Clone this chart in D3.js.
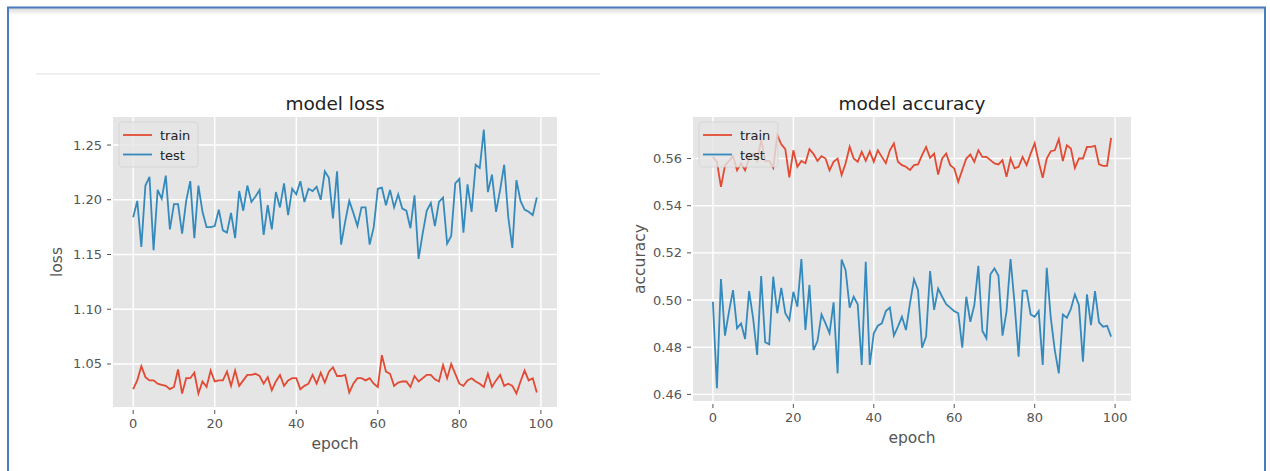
<!DOCTYPE html>
<html>
<head>
<meta charset="utf-8">
<script src="https://cdn.jsdelivr.net/npm/d3@7"></script>
<style>
  body { margin: 0; background: #fff; }
  text { font-family: "DejaVu Sans", sans-serif; }
</style>
</head>
<body>
<script>
// values
var epochs = d3.range(100);
var xTicks = [0, 20, 40, 60, 80, 100];

var lossTrain = [1.027,1.035,1.048,1.038,1.035,1.035,1.032,1.031,1.030,1.027,
  1.029,1.045,1.023,1.037,1.037,1.042,1.023,1.034,1.029,1.044,
  1.034,1.035,1.035,1.043,1.030,1.044,1.030,1.035,1.040,1.040,
  1.041,1.039,1.032,1.038,1.026,1.034,1.040,1.030,1.035,1.037,
  1.037,1.027,1.030,1.032,1.040,1.032,1.042,1.033,1.043,1.047,
  1.039,1.039,1.040,1.024,1.032,1.037,1.037,1.035,1.037,1.032,
  1.029,1.058,1.043,1.041,1.030,1.033,1.034,1.034,1.029,1.039,
  1.034,1.037,1.040,1.040,1.036,1.034,1.049,1.037,1.050,1.041,
  1.032,1.030,1.035,1.037,1.034,1.032,1.029,1.041,1.029,1.035,
  1.040,1.030,1.032,1.030,1.023,1.034,1.044,1.035,1.037,1.024];

var lossTest = [1.184,1.199,1.157,1.213,1.221,1.154,1.209,1.201,1.222,1.173,
  1.196,1.196,1.169,1.199,1.217,1.165,1.213,1.189,1.175,1.175,
  1.176,1.191,1.172,1.170,1.188,1.165,1.208,1.190,1.213,1.198,
  1.203,1.209,1.168,1.195,1.173,1.207,1.193,1.215,1.186,1.210,
  1.205,1.217,1.198,1.210,1.208,1.212,1.200,1.226,1.220,1.183,
  1.226,1.159,1.180,1.199,1.188,1.176,1.193,1.193,1.159,1.175,
  1.210,1.211,1.195,1.209,1.193,1.205,1.192,1.190,1.174,1.204,
  1.146,1.169,1.190,1.197,1.176,1.198,1.202,1.160,1.167,1.215,
  1.219,1.170,1.214,1.189,1.232,1.229,1.264,1.207,1.223,1.189,
  1.209,1.232,1.184,1.156,1.218,1.199,1.191,1.189,1.186,1.202];

var accTrain = [0.5607,0.5586,0.5480,0.5570,0.5590,0.5610,0.5550,0.5580,0.5550,0.5600,
  0.5620,0.5590,0.5680,0.5590,0.5590,0.5560,0.5700,0.5660,0.5640,0.5520,
  0.5635,0.5565,0.5590,0.5580,0.5640,0.5620,0.5590,0.5610,0.5600,0.5550,
  0.5586,0.5600,0.5530,0.5580,0.5650,0.5600,0.5586,0.5628,0.5590,0.5630,
  0.5586,0.5635,0.5607,0.5580,0.5635,0.5664,0.5586,0.5572,0.5565,0.5551,
  0.5572,0.5575,0.5614,0.5649,0.5603,0.5621,0.5532,0.5600,0.5621,0.5572,
  0.5558,0.5501,0.5551,0.5600,0.5617,0.5586,0.5635,0.5607,0.5607,0.5593,
  0.5579,0.5575,0.5593,0.5522,0.5600,0.5558,0.5565,0.5607,0.5572,0.5621,
  0.5664,0.5586,0.5518,0.5600,0.5631,0.5635,0.5682,0.5589,0.5656,0.5642,
  0.5560,0.5600,0.5600,0.5649,0.5649,0.5654,0.5575,0.5569,0.5569,0.5688];

var accTest = [0.4993,0.4626,0.5089,0.4849,0.4951,0.5042,0.4880,0.4901,0.4835,0.5038,
  0.4922,0.4767,0.5102,0.4821,0.4812,0.5099,0.4944,0.5052,0.4944,0.4915,
  0.5035,0.4972,0.5174,0.4873,0.5064,0.4788,0.4826,0.4939,0.4901,0.4859,
  0.4990,0.4689,0.5172,0.5127,0.4968,0.5014,0.4982,0.4725,0.5162,0.4725,
  0.4859,0.4891,0.4901,0.4953,0.4968,0.4849,0.4887,0.4929,0.4873,0.4986,
  0.5088,0.5042,0.4798,0.4845,0.5123,0.4958,0.5049,0.5014,0.4982,0.4968,
  0.4953,0.4944,0.4798,0.5014,0.4908,0.4979,0.5145,0.4869,0.4838,0.5109,
  0.5134,0.5103,0.4849,0.4951,0.5174,0.4986,0.4760,0.5040,0.5040,0.4939,
  0.4929,0.4953,0.4725,0.5137,0.4925,0.4788,0.4689,0.4939,0.4925,0.4962,
  0.5024,0.4979,0.4739,0.5024,0.4894,0.5038,0.4905,0.4887,0.4891,0.4845];

var lossTicks = [1.05, 1.10, 1.15, 1.20, 1.25];
var accTicks = [0.46, 0.48, 0.50, 0.52, 0.54, 0.56];

var red = "#E24A33", blue = "#348ABD";
var W = 1270, H = 471;

var svg = d3.select("body").append("svg").attr("width", W).attr("height", H);

// notebook frame
var defs = svg.append("defs");
var grad = defs.append("linearGradient").attr("id", "shade")
  .attr("x1", 0).attr("y1", 0).attr("x2", 0).attr("y2", 1);
grad.append("stop").attr("offset", "0%").attr("stop-color", "#d8d8d8");
grad.append("stop").attr("offset", "100%").attr("stop-color", "#ffffff");
svg.append("rect").attr("x", 9).attr("y", 8).attr("width", 1255).attr("height", 7)
  .attr("fill", "url(#shade)");
svg.append("path").attr("d", "M8,480V7.5H1265V480")
  .attr("fill", "none").attr("stroke", "#4a7bc0").attr("stroke-width", 2);
svg.append("line").attr("x1", 36).attr("x2", 600).attr("y1", 74).attr("y2", 74)
  .attr("stroke", "#efefef").attr("stroke-width", 2);

function drawPanel(p) {
  var x = d3.scaleLinear().domain([-4.95, 103.95]).range([p.left, p.right]);
  var y = d3.scaleLinear().domain(p.yDomain).range([p.bottom, p.top]);
  var g = svg.append("g");

  g.append("rect").attr("x", p.left).attr("y", p.top)
    .attr("width", p.right - p.left).attr("height", p.bottom - p.top)
    .attr("fill", "#E5E5E5");

  // grid
  g.selectAll(".gx").data(xTicks).enter().append("line")
    .attr("x1", d => x(d)).attr("x2", d => x(d))
    .attr("y1", p.top).attr("y2", p.bottom)
    .attr("stroke", "#fff").attr("stroke-width", 1.4);
  g.selectAll(".gy").data(p.yTicks).enter().append("line")
    .attr("x1", p.left).attr("x2", p.right)
    .attr("y1", d => y(d)).attr("y2", d => y(d))
    .attr("stroke", "#fff").attr("stroke-width", 1.4);

  // ticks + labels
  g.selectAll(".tx").data(xTicks).enter().append("line")
    .attr("x1", d => x(d)).attr("x2", d => x(d))
    .attr("y1", p.bottom + 3).attr("y2", p.bottom + 7)
    .attr("stroke", "#555").attr("stroke-width", 1);
  g.selectAll(".lx").data(xTicks).enter().append("text")
    .attr("x", d => x(d)).attr("y", p.bottom + 21)
    .attr("text-anchor", "middle").attr("font-size", 13).attr("fill", "#555")
    .text(d => d);
  g.selectAll(".ty").data(p.yTicks).enter().append("line")
    .attr("x1", p.left - 6).attr("x2", p.left - 2)
    .attr("y1", d => y(d)).attr("y2", d => y(d))
    .attr("stroke", "#555").attr("stroke-width", 1);
  g.selectAll(".ly").data(p.yTicks).enter().append("text")
    .attr("x", p.left - 11).attr("y", d => y(d) + 4.5)
    .attr("text-anchor", "end").attr("font-size", 13).attr("fill", "#555")
    .text(d => d3.format(".2f")(d));

  // series
  var line = d3.line().x((d, i) => x(epochs[i])).y(d => y(d));
  g.append("path").datum(p.train).attr("d", line)
    .attr("fill", "none").attr("stroke", red).attr("stroke-width", 1.8);
  g.append("path").datum(p.test).attr("d", line)
    .attr("fill", "none").attr("stroke", blue).attr("stroke-width", 1.8);

  // titles
  g.append("text").attr("x", (p.left + p.right) / 2).attr("y", p.top - 7)
    .attr("text-anchor", "middle").attr("font-size", 18.5).attr("fill", "#222")
    .text(p.title);
  g.append("text").attr("x", (p.left + p.right) / 2).attr("y", p.bottom + p.xLabelGap)
    .attr("text-anchor", "middle").attr("font-size", 15.5).attr("fill", "#555")
    .text("epoch");
  g.append("text")
    .attr("transform", "translate(" + p.yLabelX + "," + ((p.top + p.bottom) / 2) + ") rotate(-90)")
    .attr("text-anchor", "middle").attr("font-size", 15.5).attr("fill", "#555")
    .text(p.yLabel);

  // legend
  var lg = g.append("g").attr("transform", "translate(" + (p.left + 6) + "," + (p.top + 5) + ")");
  lg.append("rect").attr("width", 79).attr("height", 45).attr("rx", 3)
    .attr("fill", "#E5E5E5").attr("fill-opacity", 0.8)
    .attr("stroke", "#cccccc").attr("stroke-opacity", 0.8).attr("stroke-width", 0.8);
  [["train", red], ["test", blue]].forEach(function (s, i) {
    var yy = 13 + i * 19.5;
    lg.append("line").attr("x1", 4).attr("x2", 33).attr("y1", yy).attr("y2", yy)
      .attr("stroke", s[1]).attr("stroke-width", 1.8);
    lg.append("text").attr("x", 41).attr("y", yy + 5).attr("font-size", 13)
      .attr("fill", "#222").text(s[0]);
  });
}

drawPanel({
  left: 113, right: 557, top: 117, bottom: 407,
  yDomain: [1.0107, 1.2756], yTicks: lossTicks,
  train: lossTrain, test: lossTest,
  title: "model loss", yLabel: "loss", yLabelX: 62, xLabelGap: 42
});

drawPanel({
  left: 693, right: 1131, top: 117, bottom: 401,
  yDomain: [0.4572, 0.5776], yTicks: accTicks,
  train: accTrain, test: accTest,
  title: "model accuracy", yLabel: "accuracy", yLabelX: 645, xLabelGap: 42
});
</script>
</body>
</html>
